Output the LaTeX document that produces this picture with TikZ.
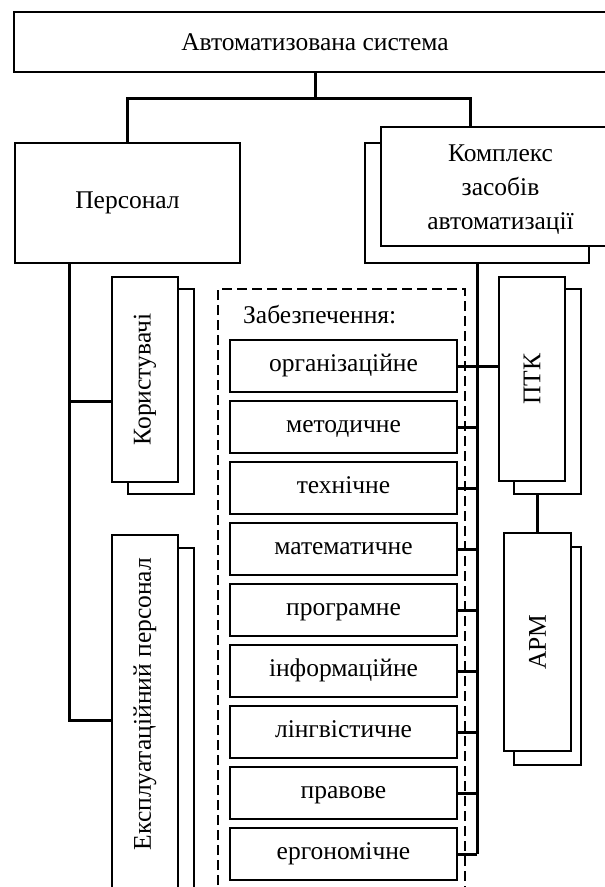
\documentclass[tikz,border=0pt]{standalone}
\usepackage{fontspec}
\setmainfont{Liberation Serif}
\begin{document}
\begin{tikzpicture}[x=1pt,y=-1pt,
  box/.style={draw, line width=1.5pt, fill=white, inner sep=0pt, align=center, font=\fontsize{25.5}{34}\selectfont},
  rowbox/.style={box, minimum width=227, minimum height=52, text height=17pt, text depth=6pt},
  lbl/.style={inner sep=0pt, font=\fontsize{25.5}{34}\selectfont},
  conn/.style={line width=3pt},
  frame/.style={draw, line width=1.3pt, dash pattern=on 10pt off 5pt}]
\clip (0,0) rectangle (605,887);
% top level
\node[box, minimum width=602, minimum height=60] (as) at (315,42) {Автоматизована система};
\node[box, minimum width=225, minimum height=120] (pers) at (127.5,203) {Персонал};
\node[box, minimum width=224, minimum height=120] (kzb) at (477,203) {};
\node[box, minimum width=239, minimum height=119] (kza) at (500.5,186.5) {};
\node[lbl, align=center] (kza-t) at (500.5,190) {Комплекс\\засобів\\автоматизації};
\draw[conn] (as.south) -- ++(0,26) coordinate (fork);
\draw[conn] (pers.north) |- (fork) -| ([xshift=-30pt]kza.north);
% personnel
\node[box, minimum width=66, minimum height=205] (usersb) at (161,391.5) {};
\node[box, minimum width=66, minimum height=205] (users) at (145,379.5) {};
\node[lbl, rotate=90] (users-t) at (users) {Користувачі};
\node[box, minimum width=66, minimum height=370] (operb) at (161,733) {};
\node[box, minimum width=66, minimum height=370] (oper) at (145,720) {};
\node[lbl, rotate=90] (oper-t) at (145,704) {Експлуатаційний персонал};
\draw[conn] ([xshift=-58.5pt]pers.south) coordinate (lbus) |- (oper.west);
\draw[conn] (lbus |- 0,401) -- (users.west |- 0,401);
% support
\draw[frame] (218,900) -- (218,289) -- (465,289) -- (465,900);
\node[lbl, anchor=west] (zab) at (243,315) {Забезпечення:};
\foreach \lbl [count=\i] in {організаційне, методичне, технічне, математичне, програмне, інформаційне, лінгвістичне, правове, ергономічне}
  \node[rowbox] (z\i) at (343.5,305+61*\i) {\lbl};
% complex
\node[box, minimum width=67, minimum height=205] (ptkb) at (547.5,391.5) {};
\node[box, minimum width=66, minimum height=204] (ptk) at (532,379) {};
\node[lbl, rotate=90] (ptk-t) at (ptk) {ПТК};
\node[box, minimum width=67, minimum height=218] (armb) at (547.5,656) {};
\node[box, minimum width=67, minimum height=218] (arm) at (537.5,642) {};
\node[lbl, rotate=90] (arm-t) at (arm) {АРМ};
\draw[conn] (kzb.south) -- (kzb.south |- z9.east);
\foreach \i in {1,...,9}
  \draw[conn] (z\i.east) -- (z\i.east -| kzb.south);
\draw[conn] (z1.east -| kzb.south) -- (z1.east -| ptk.west);
\draw[conn] (arm.north) -- (arm.north |- ptkb.south);
\end{tikzpicture}
\end{document}
